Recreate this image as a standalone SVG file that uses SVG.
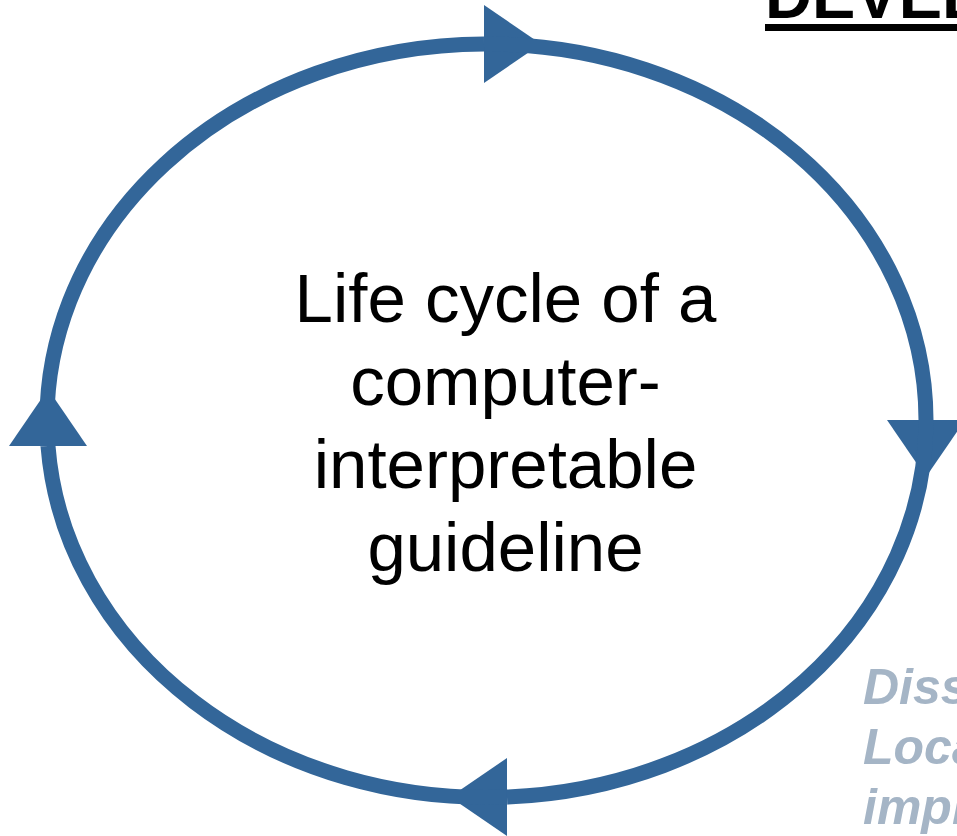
<svg xmlns="http://www.w3.org/2000/svg" width="957" height="836" viewBox="0 0 957 836">
  <style>
    .cycle { fill: none; stroke: #336699; stroke-width: 15; }
    .center { font-family: "Liberation Sans", Arial, sans-serif; font-size: 69px; fill: #000; text-anchor: middle; }
    .title { font-family: "Liberation Sans", Arial, sans-serif; font-size: 65px; font-weight: bold; fill: #000; }
    .side { font-family: "Liberation Sans", Arial, sans-serif; font-size: 50px; font-weight: bold; font-style: italic; fill: #a5b5c6; }
  </style>
  <defs>
    <path id="tri" d="M0,-39 L57,0 L0,39 Z" fill="#336699"/>
    <marker id="head-right" markerUnits="userSpaceOnUse" orient="0" refX="0" refY="0" markerWidth="60" markerHeight="80" overflow="visible"><use href="#tri"/></marker>
    <marker id="head-down" markerUnits="userSpaceOnUse" orient="90" refX="0" refY="0" markerWidth="60" markerHeight="80" overflow="visible"><use href="#tri"/></marker>
    <marker id="head-left" markerUnits="userSpaceOnUse" orient="180" refX="0" refY="0" markerWidth="60" markerHeight="80" overflow="visible"><use href="#tri"/></marker>
    <marker id="head-up" markerUnits="userSpaceOnUse" orient="270" refX="0" refY="0" markerWidth="60" markerHeight="80" overflow="visible"><use href="#tri"/></marker>
  </defs>

  <rect width="957" height="836" fill="#ffffff"/>

  <!-- heading, running off the right edge -->
  <g id="heading">
    <text class="title" x="765" y="18">DEVEL</text>
    <rect x="765" y="24" width="192" height="7" fill="#000"/>
  </g>

  <!-- the cycle: four clockwise arcs, each ending in an arrowhead -->
  <g id="connectors">
    <path class="cycle" marker-end="url(#head-right)" d="M48,446 A439.5,376.5 0 0 1 484,44"/>
    <path class="cycle" marker-end="url(#head-down)" d="M484,44 A439.5,376.5 0 0 1 926,420"/>
    <path class="cycle" marker-end="url(#head-left)" d="M926,420 A439.5,376.5 0 0 1 507,797"/>
    <path class="cycle" marker-end="url(#head-up)" d="M507,797 A439.5,376.5 0 0 1 48,446"/>
  </g>

  <g id="cycle-label">
    <text class="center" x="505.5" y="322">Life cycle of a</text>
    <text class="center" x="505.5" y="405">computer-</text>
    <text class="center" x="505.5" y="488">interpretable</text>
    <text class="center" x="505.5" y="571">guideline</text>
  </g>

  <g id="side-note">
    <text class="side" x="863" y="704">Diss</text>
    <text class="side" x="863" y="764">Loca</text>
    <text class="side" x="863" y="824">impl</text>
  </g>
</svg>
